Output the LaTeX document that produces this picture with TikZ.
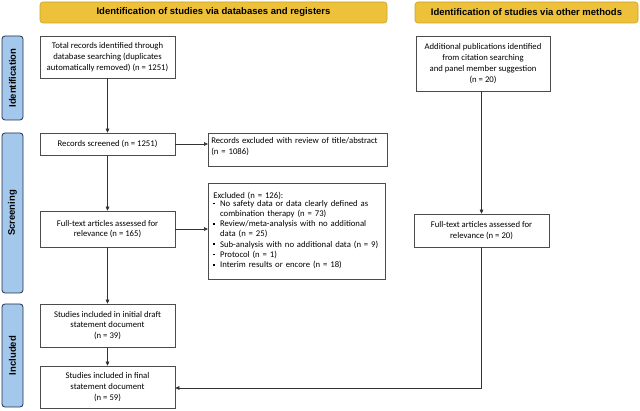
\documentclass[tikz,border=0pt]{standalone}
\usepackage{fontspec}
\setmainfont{Carlito}
\newfontfamily\hdrfont{Liberation Sans}
\usetikzlibrary{positioning,
	calc,
	arrows.meta}
\definecolor{bannergold}{HTML}{EEC13A}
\definecolor{bannerline}{HTML}{C9A22E}
\definecolor{sideblue}{HTML}{A4C7EC}
\definecolor{sideline}{HTML}{1F2F4F}
\tikzstyle{bx}=[draw=black!70, fill=white, line width=0.6pt, inner sep=3pt,
		align=center, font=\fontsize{8.7}{10.8}\selectfont, minimum width=135pt]
\tikzstyle{lbx}=[bx, align=left, anchor=north west, minimum width=0pt]
\tikzstyle{banner}=[draw=bannerline, fill=bannergold, rounded corners=3pt,
		line width=0.6pt, minimum height=21pt, font=\hdrfont\bfseries\fontsize{9.5}{10}\selectfont]
\tikzstyle{side}=[draw=sideline, fill=sideblue, rounded corners=3pt, line width=0.8pt,
		rotate=90, minimum height=21pt, inner sep=0pt,
		font=\hdrfont\bfseries\fontsize{9.5}{10}\selectfont, text=black]
\tikzstyle{conn}=[-{Triangle[length=4pt,width=3.6pt]}, line width=0.6pt, black!80]
\newcommand{\bul}{\rule[1.8pt]{1.8pt}{1.8pt}}

\begin{document}
\begin{tikzpicture}[x=1pt, y=-1pt]
	\useasboundingbox (0,0) rectangle (640,411);
	% headers
	\node[banner, minimum width=347pt] (hdrdb) at (213.5,12.5) {Identification of studies via databases and registers};
	\node[banner, minimum width=223pt] (hdrot) at (526.5,12.5) {Identification of studies via other methods};
	% phase labels
	\node[side, minimum width=84pt] (phid) at (12.5,78) {Identification};
	\node[side, minimum width=160pt] (phsc) at (12.5,213) {Screening};
	\node[side, minimum width=103pt] (phin) at (12.5,355.5) {Included};
	% left column
	\node[bx, minimum height=42pt] (total) at (107.5,57) {Total records identified through\\database searching (duplicates\\automatically removed) (n = 1251)};
	\node[bx, minimum height=22pt] (screen) at (107.5,144) {Records screened (n = 1251)};
	\node[bx, minimum height=36pt] (fulltext) at (107.5,229) {Full-text articles assessed for\\relevance (n = 165)};
	\node[bx, minimum height=43pt] (initial) at (107.5,325.5) {Studies included in initial draft\\statement document\\(n = 39)};
	\node[bx, minimum height=42pt] (final) at (107.5,387) {Studies included in final\\statement document\\(n = 59)};
	% exclusions
	\node[lbx, text width=173pt, minimum height=33pt, inner sep=3pt] (excl) at (208,133) {Records excluded with review of title/abstract\\(n = 1086)\vspace{7pt}};
	\node[lbx, text width=167pt, minimum height=96pt, inner xsep=5pt, inner ysep=2pt,
		font=\fontsize{8.7}{10.2}\selectfont] (exclft) at (208,183) {%
		Excluded (n = 126):\\[-1.5pt]
		\begin{tabular}{@{}l@{\hspace{5pt}}l@{}}
			\bul & No safety data or data clearly defined as\\
			     & combination therapy (n = 73)\\
			\bul & Review/meta-analysis with no additional\\
			     & data (n = 25)\\
			\bul & Sub-analysis with no additional data (n = 9)\\
			\bul & Protocol (n = 1)\\
			\bul & Interim results or encore (n = 18)
		\end{tabular}};
	% right column
	\node[bx, minimum width=134pt, minimum height=55pt] (extra) at (483,63.5) {Additional publications identified\\from citation searching\\and panel member suggestion\\(n = 20)};
	\node[bx, minimum height=33pt] (fulltextb) at (481.5,230.5) {Full-text articles assessed for\\relevance (n = 20)};
	% connectors
	\draw[conn] (total) -- (screen);
	\draw[conn] (screen) -- (fulltext);
	\draw[conn] (fulltext) -- (initial);
	\draw[conn] (initial) -- (final);
	\draw[conn] (screen.east) -- (screen.east -| excl.west);
	\draw[conn] (fulltext.east) -- (fulltext.east -| exclft.west);
	\draw[conn] (extra.south -| fulltextb.north) -- (fulltextb.north);
	\draw[conn] (fulltextb.south) -- ($(fulltextb.south |- final.east)+(0,1)$) -- ($(final.east)+(0,1)$);
\end{tikzpicture}
\end{document}
